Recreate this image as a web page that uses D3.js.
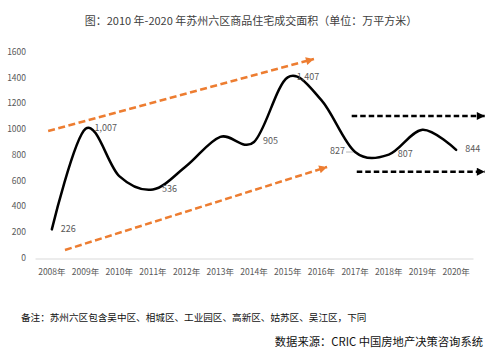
<!DOCTYPE html>
<html>
<head>
<meta charset="utf-8">
<script src="https://cdn.jsdelivr.net/npm/d3@7"></script>
<style>
  html, body { margin: 0; padding: 0; background: #fff; }
  svg { display: block; }
  text { font-family: "Noto Sans CJK SC", "Noto Sans", sans-serif; }
</style>
</head>
<body>
<svg id="chart" width="500" height="356"></svg>
<script>
// ---- data ----
const years = ["2008年","2009年","2010年","2011年","2012年","2013年","2014年","2015年","2016年","2017年","2018年","2019年","2020年"];
const values = [226, 1007, 640, 536, 720, 945, 905, 1407, 1230, 827, 807, 1000, 844];
const dataLabels = ["226","1,007","","536","","","905","1,407","","827","807","","844"];
const yTicks = [0, 200, 400, 600, 800, 1000, 1200, 1400, 1600];
const titleText = "图：2010 年-2020 年苏州六区商品住宅成交面积（单位：万平方米）";
const noteText = "备注：苏州六区包含吴中区、相城区、工业园区、高新区、姑苏区、吴江区，下同";
const sourceText = "数据来源：CRIC 中国房地产决策咨询系统";
// trend arrows in data coordinates: [category index, value]
const orangeUpper = [[-0.11, 990], [7.78, 1550]];
const orangeLower = [[0.39, 66], [8.17, 711]];
const blackUpper = [[8.9, 1107], [12.85, 1107]];
const blackLower = [[9.05, 674], [12.85, 674]];

// ---- chart ----
const svg = d3.select("#chart");
svg.append("rect").attr("width", 500).attr("height", 356).attr("fill", "#fff");

const x = d3.scaleBand().domain(years).range([35, 473]).padding(0);
const bw = x.bandwidth();
const xi = d3.scaleLinear().domain([0, years.length - 1])
  .range([x(years[0]) + bw / 2, x(years[years.length - 1]) + bw / 2]);
const y = d3.scaleLinear().domain([0, 1600]).range([258.5, 52.5]);

// title
svg.append("text").attr("x", 251).attr("y", 22).attr("text-anchor", "middle")
  .attr("dominant-baseline", "middle").attr("font-size", 11).attr("fill", "#404040")
  .text(titleText);

// y tick labels
svg.append("g").selectAll("text").data(yTicks).join("text")
  .attr("x", 26).attr("y", d => y(d)).attr("text-anchor", "end")
  .attr("dominant-baseline", "middle").attr("font-size", 8.5).attr("fill", "#595959")
  .text(d => d);

// x axis
const xAxis = svg.append("g").attr("transform", "translate(0,258.5)")
  .call(d3.axisBottom(x).tickSize(0).tickPadding(10));
xAxis.select(".domain").attr("stroke", "#d9d9d9").attr("stroke-width", 1);
xAxis.selectAll("text").attr("font-size", 8.5).attr("fill", "#595959")
  .attr("font-family", "\"Noto Sans CJK SC\", sans-serif");

// markers
const defs = svg.append("defs");
function marker(id, color) {
  defs.append("marker").attr("id", id).attr("viewBox", "0 0 10 10")
    .attr("refX", 10).attr("refY", 5).attr("markerUnits", "userSpaceOnUse")
    .attr("markerWidth", 9).attr("markerHeight", 8).attr("orient", "auto")
    .append("path").attr("d", "M0,0 L10,5 L0,10 Z").attr("fill", color);
}
marker("arrOrange", "#ED7D31");
marker("arrBlack", "#000");

const seg = d3.line().x(d => xi(d[0])).y(d => y(d[1]));
function arrow(pts, color, dash, mk) {
  svg.append("path").attr("d", seg(pts)).attr("fill", "none")
    .attr("stroke", color).attr("stroke-width", 2.5)
    .attr("stroke-dasharray", dash).attr("marker-end", `url(#${mk})`);
}
arrow(orangeUpper, "#ED7D31", "7,3.5", "arrOrange");
arrow(orangeLower, "#ED7D31", "7,3.5", "arrOrange");
arrow(blackUpper, "#000", "5.5,3", "arrBlack");
arrow(blackLower, "#000", "5.5,3", "arrBlack");

// main line
const line = d3.line()
  .x((d, i) => x(years[i]) + bw / 2)
  .y(d => y(d))
  .curve(d3.curveCardinal.tension(0));
svg.append("path").datum(values).attr("d", line)
  .attr("fill", "none").attr("stroke", "#000").attr("stroke-width", 2.5)
  .attr("stroke-linecap", "round");

// data labels
const lbl = svg.append("g");
values.forEach((v, i) => {
  const t = dataLabels[i];
  if (!t) return;
  const cx = x(years[i]) + bw / 2, cy = y(v);
  if (t === "827") {
    lbl.append("line").attr("x1", cx - 9).attr("x2", cx - 2).attr("y1", cy).attr("y2", cy)
      .attr("stroke", "#a6a6a6").attr("stroke-width", 0.8);
    lbl.append("text").attr("x", cx - 10).attr("y", cy).attr("text-anchor", "end")
      .attr("dominant-baseline", "middle").attr("font-size", 9).attr("fill", "#595959").text(t);
  } else {
    lbl.append("text").attr("x", cx + 9).attr("y", cy).attr("text-anchor", "start")
      .attr("dominant-baseline", "middle").attr("font-size", 9).attr("fill", "#595959").text(t);
  }
});

// notes
svg.append("text").attr("x", 21).attr("y", 318).attr("dominant-baseline", "middle")
  .attr("font-size", 9.6).attr("fill", "#111").text(noteText);
svg.append("text").attr("x", 483).attr("y", 343).attr("text-anchor", "end")
  .attr("dominant-baseline", "middle").attr("font-size", 11.3).attr("fill", "#111").text(sourceText);
</script>
</body>
</html>
